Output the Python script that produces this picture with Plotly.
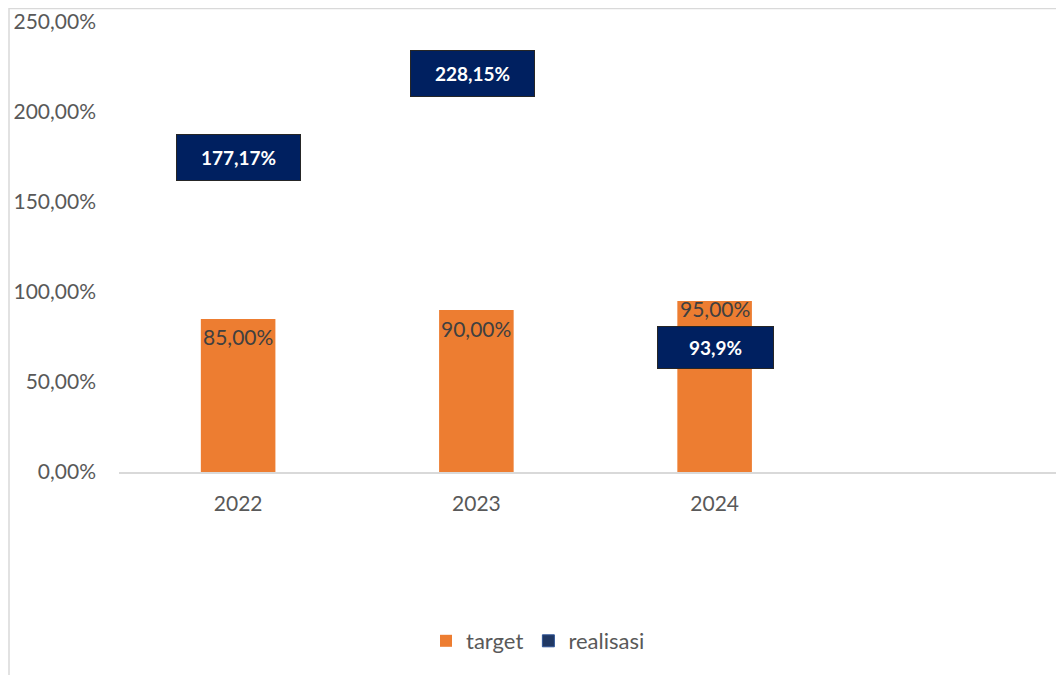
import plotly.graph_objects as go

categories = ["2022", "2023", "2024"]
target = [85.00, 90.00, 95.00]
realisasi = [177.17, 228.15, 93.9]
target_labels = ["85,00%", "90,00%", "95,00%"]
realisasi_labels = ["177,17%", "228,15%", "93,9%"]
y_ticks = [0, 50, 100, 150, 200, 250]
y_tick_labels = ["0,00%", "50,00%", "100,00%", "150,00%", "200,00%", "250,00%"]

W, H = 1064, 675
OFF = 8  # page body margin
REF_L, REF_T, REF_BOT = 119, 22, 472
L = REF_L - OFF
T = REF_T - OFF
B = H - (REF_BOT - OFF)
pw = W - L
ph = H - T - B

def px_x(p):
    return (p - REF_L) / pw

def px_y(p):
    return (REF_BOT - p) / ph

fig = go.Figure()
fig.add_trace(go.Bar(
    x=categories, y=target, name="target",
    marker=dict(color="#ED7D31", line=dict(width=0)),
    width=0.313, hoverinfo="skip",
))
# realisasi series: bars on a hidden secondary axis (Excel shows only its labels)
fig.add_trace(go.Bar(
    x=categories, y=realisasi, name="realisasi", yaxis="y2",
    marker=dict(color="#203864", line=dict(color="#2F5597", width=1)),
    width=0.313, hoverinfo="skip",
))

annotations = []
# target value labels (inside top of bar)
target_shift = [-17, -18, -7]
for i, (v, t, s) in enumerate(zip(target, target_labels, target_shift)):
    annotations.append(dict(
        xref="x", yref="y", x=i, y=v, text=t,
        showarrow=False, yanchor="middle", yshift=s,
        font=dict(family="Lato", size=21, color="#404040"),
    ))

# realisasi labels in navy boxes
real_shift = [-4, -12, -45]
real_xshift = [0, -4, 1]
box_w = [121, 121, 113]
box_h = [43, 43, 39]
for i, (v, t, s, xs, bw, bh) in enumerate(zip(realisasi, realisasi_labels, real_shift,
                                               real_xshift, box_w, box_h)):
    annotations.append(dict(
        xref="x", yref="y", x=i, y=v, text="<b>" + t + "</b>", showarrow=False,
        yanchor="middle", yshift=s, xshift=xs,
        font=dict(family="Lato", size=19, color="#FFFFFF"),
        bgcolor="#002060", bordercolor="#262626", borderwidth=1, borderpad=1,
        width=bw, height=bh, align="center", valign="middle",
    ))

shapes = [
    dict(type="line", xref="paper", yref="paper",
         x0=px_x(9), x1=px_x(9), y0=px_y(8), y1=px_y(700),
         line=dict(color="#D9D9D9", width=1.5)),
    dict(type="line", xref="paper", yref="paper",
         x0=px_x(9), x1=px_x(1100), y0=px_y(8.5), y1=px_y(8.5),
         line=dict(color="#D9D9D9", width=1.5)),
]

fig.update_layout(
    width=W, height=H,
    margin=dict(l=L, r=0, t=T, b=B),
    paper_bgcolor="#FFFFFF", plot_bgcolor="#FFFFFF",
    barmode="overlay",
    showlegend=True,
    annotations=annotations,
    shapes=shapes,
    legend=dict(
        orientation="h", x=px_x(538), y=px_y(641),
        xanchor="center", yanchor="middle",
        font=dict(family="Lato", size=22, color="#595959"),
        traceorder="normal",
    ),
    xaxis=dict(
        type="category", categoryorder="array", categoryarray=categories,
        range=[-0.5, 3.5],
        showgrid=False, zeroline=False,
        showline=True, linecolor="#D9D9D9", linewidth=1.5,
        ticks="", tickfont=dict(family="Lato", size=21, color="#595959"),
        ticklabelstandoff=12,
    ),
    yaxis=dict(
        range=[0, 250], tickmode="array", tickvals=y_ticks, ticktext=y_tick_labels,
        showgrid=False, zeroline=False, showline=False,
        ticks="", tickfont=dict(family="Lato", size=21, color="#595959"),
        ticklabelstandoff=22,
    ),
    yaxis2=dict(
        overlaying="y", range=[1000, 1250], visible=False,
        showgrid=False, zeroline=False,
    ),
)

fig.write_html("out.html")
